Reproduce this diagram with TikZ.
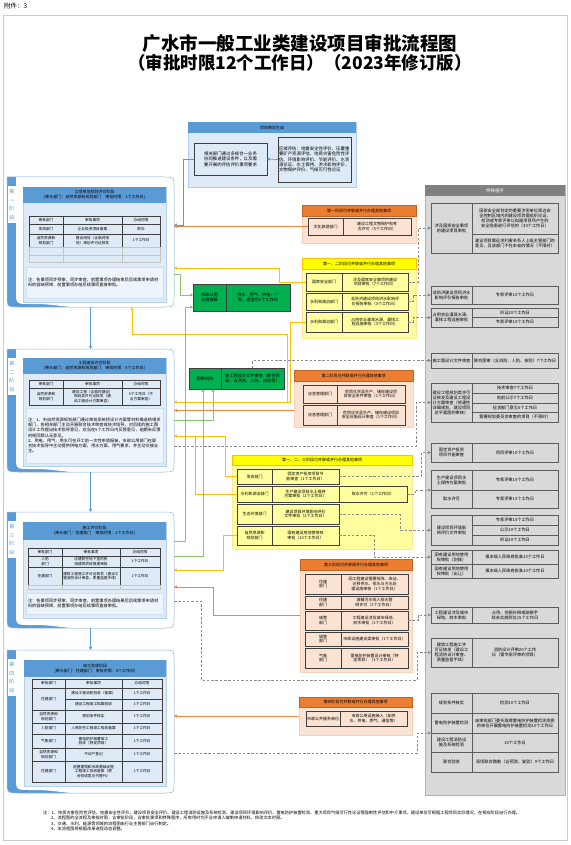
\documentclass[tikz,border=0pt]{standalone}
\usepackage{fontspec}
\setmainfont{Noto Sans CJK SC}
\XeTeXlinebreaklocale "zh"
\XeTeXlinebreakskip=0pt
\usetikzlibrary{arrows.meta}
\definecolor{sblue}{HTML}{5B9BD5}
\definecolor{lblue}{HTML}{DEEBF7}
\definecolor{nblue}{HTML}{EEF4FB}
\definecolor{frameb}{HTML}{9DB9DB}
\definecolor{tab}{HTML}{3F3F3F}
\definecolor{orh}{HTML}{ED7D31}
\definecolor{orb}{HTML}{FBE3D3}
\definecolor{yeh}{HTML}{FFFF00}
\definecolor{yeb}{HTML}{FFFF9F}
\definecolor{grn}{HTML}{00B050}
\definecolor{gpan}{HTML}{D9D9D9}
\definecolor{gh}{HTML}{808080}
\definecolor{lnb}{HTML}{5B9BD5}
\definecolor{lno}{HTML}{F08540}
\definecolor{lny}{HTML}{FFC000}
\definecolor{lng}{HTML}{8DC26F}
\definecolor{lnd}{HTML}{8C8C8C}
\newcommand\fz[2]{\fontsize{#1pt}{#2pt}\selectfont}
\newcommand\bx[7]{%
  \pgfmathsetmacro\bxw{#5-#3}%
  \pgfmathsetmacro\bxh{#6-#4}%
  \pgfmathsetmacro\bxt{max(#5-#3-2,1)}%
  \node[#1,minimum width=\bxw pt,minimum height=\bxh pt,text width=\bxt pt] (#2) at ({(#3+#5)/2},{(#4+#6)/2}) {#7};}
\newcommand\stg[4]{%
  \fill[sblue] (7,#2) -- (164,#2) .. controls (174,#2) .. (174,{#2+10}) -- (174,{#3-10}) .. controls (174,#3) .. (164,#3) -- (19,#3) .. controls (7,#3) .. (7,{#3-12}) -- cycle;
  \fill[white] (16,#2) -- (164,#2) .. controls (174,#2) .. (174,{#2+10}) -- (174,{#3-10}) .. controls (174,#3) .. (164,#3) -- (70,#3) .. controls (45,{#3-3}) .. (30,{#3-3}) .. controls (16,{#3-3}) .. (16,{#3-16}) -- cycle;
  \draw[frameb,line width=0.5pt] (7,#2) -- (164,#2) .. controls (174,#2) .. (174,{#2+10}) -- (174,{#3-10}) .. controls (174,#3) .. (164,#3) -- (19,#3) .. controls (7,#3) .. (7,{#3-12}) -- cycle;
  \fill[white] (8,{#2+9}) rectangle (15.5,{#2+46});
  \node[text=sblue,font=\fz{5}{8.5},align=center,inner sep=0] (#1l) at (11.75,{#2+27.5}) {#4};
  \pgfmathsetmacro\sth{#3-#2}%
  \node[inner sep=0,outer sep=0,minimum width=167pt,minimum height=\sth pt] (#1) at (90.5,{(#2+#3)/2}) {};}
\tikzset{
  base/.style={inner xsep=1pt,inner ysep=0.2pt,outer sep=0pt,align=center},
  cell/.style={base,draw=tab,line width=0.4pt,font=\fz{3.7}{4.4}},
  ecell/.style={base,draw=tab!30,line width=0.4pt},
  ibox/.style={base,fill=lblue,draw=sblue!45,line width=0.4pt},
  hdr/.style={base,fill=sblue,font=\fz{4}{5.2}},
  note/.style={base,fill=nblue,draw=sblue!30,line width=0.3pt,align=left,font=\fz{4.2}{5.2},inner xsep=2pt},
  pbox/.style={base,fill=lblue,draw=tab,line width=0.5pt,font=\fz{4.4}{5.4}},
  gbox/.style={base,fill=grn,draw=tab,line width=0.5pt,font=\fz{4.2}{5}},
  obody/.style={base,fill=orb,draw=orh!35,line width=0.5pt},
  ybody/.style={base,fill=yeb,draw=lny!40,line width=0.5pt},
  ohdr/.style={base,fill=orh,draw=orh!80!black,line width=0.3pt,font=\fz{4}{5}},
  yhdr/.style={base,fill=yeh,draw=lny,line width=0.3pt,font=\fz{4}{5}},
  pcell/.style={base,draw=tab,line width=0.5pt,font=\fz{4}{4.8}},
  rcell/.style={base,draw=tab!85,line width=0.5pt,font=\fz{4.2}{5}},
  arr/.style={-{Triangle[length=2.8pt,width=2.8pt]}},
  cb/.style={arr,draw=lnb,line width=0.7pt},
  co/.style={arr,draw=lno,line width=0.7pt},
  cy/.style={arr,draw=lny,line width=0.7pt},
  cyn/.style={draw=lny,line width=0.7pt},
  cg/.style={arr,draw=lng,line width=0.7pt},
  cd/.style={arr,draw=lnd,line width=0.7pt,dash pattern=on 2.5pt off 1.8pt},
}
\begin{document}
\begin{tikzpicture}[x=1pt,y=-1pt]
\useasboundingbox (0,0) rectangle (570,845);
\fill[white] (0,0) rectangle (570,845);
\draw[gray!40,line width=0.6pt] (3,15) rectangle (567,840);
\node[anchor=north west,font=\fz{6.5}{7.5},inner sep=0] (att) at (4,3) {附件：3};
\node[font=\fz{18.5}{20}\bfseries,inner sep=0] (t1) at (300,43) {广水市一般工业类建设项目审批流程图};
\node[font=\fz{17.5}{19}\bfseries,inner sep=0] (t2) at (300,63) {（审批时限12个工作日）（2023年修订版）};

% ---------- project planning ----------
\bx{base,fill=lblue,draw=sblue!50,line width=0.5pt}{plan}{188}{122}{356}{187}{}
\bx{hdr}{planh}{188}{122}{356}{133}{项目策划生成}
\bx{pbox}{pl}{194}{143}{267}{175}{相关部门通过多规合一业务协同推进建设条件，以及需要开展的评估评价事项要求}
\bx{pbox,align=left}{pr}{278}{137}{351}{182}{区域评估：地震安全性评价、压覆重要矿产资源评估、地质灾害危险性评估、环境影响评价、节能评价、水资源论证、水土保持、洪水影响评价、文物保护评价、气候可行性论证}

% ---------- stage 1 ----------
\stg{st1}{177}{307}{第\\一\\阶\\段}
\bx{ibox}{s1i}{23}{187}{166}{302}{}
\bx{hdr}{s1h}{23}{187}{166}{203}{立项用地规划许可阶段\\{}[牵头部门：自然资源和规划部门\quad 审批时限：1个工作日]}
\bx{cell}{s1c1}{29}{216}{63}{224}{审批部门}
\bx{cell}{s1c2}{63}{216}{122}{224}{审批事项}
\bx{cell}{s1c3}{122}{216}{160}{224}{办结时限}
\bx{cell}{s1c4}{29}{224}{63}{234}{发改部门}
\bx{cell}{s1c5}{63}{224}{122}{234}{企业投资项目备案}
\bx{cell}{s1c6}{122}{224}{160}{234}{即办}
\bx{cell}{s1c7}{29}{234}{63}{247}{自然资源和规划部门}
\bx{cell}{s1c8}{63}{234}{122}{247}{建设用地（含临时用地）规划许可证核发}
\bx{cell}{s1c9}{122}{234}{160}{247}{1个工作日}
\bx{ecell}{s1e1}{29}{247}{63}{255}{}
\bx{ecell}{s1e2}{63}{247}{122}{255}{}
\bx{ecell}{s1e3}{122}{247}{160}{255}{}
\bx{ecell}{s1e4}{29}{255}{63}{262}{}
\bx{ecell}{s1e5}{63}{255}{122}{262}{}
\bx{ecell}{s1e6}{122}{255}{160}{262}{}
\bx{note}{s1n}{27}{267}{162}{298}{注：各事项同步预审，同步审查，前置事项办理结束后后续事项申请材料的容缺预审，前置事项办结后续事项直接审批。}

% ---------- stage 2 ----------
\stg{st2}{349}{472}{第\\二\\阶\\段}
\bx{ibox}{s2i}{23}{358}{166}{466}{}
\bx{hdr}{s2h}{23}{358}{166}{374}{工程建设许可阶段\\{}[牵头部门：自然资源和规划部门\quad 审批时限：5个工作日]}
\bx{cell}{s2c1}{29}{380}{63}{388}{审批部门}
\bx{cell}{s2c2}{63}{380}{122}{388}{审批事项}
\bx{cell}{s2c3}{122}{380}{160}{388}{办结时限}
\bx{cell}{s2c4}{29}{388}{63}{405}{自然资源和规划部门}
\bx{cell}{s2c5}{63}{388}{122}{405}{建设工程（含临时建设）规划类许可证核发（建设工程设计方案审查）}
\bx{cell}{s2c6}{122}{388}{160}{405}{5个工作日（不含方案审查）}
\bx{note}{s2n}{27}{408}{162}{463}{注：1、市自然资源规划部门通过审批系统将设计方案等材料推送给相关部门，各相关部门主动开展联合技术审查或技术指导，对后续的施工图设计工作提出技术指导意见，应当在5个工作日内反馈意见，逾期未反馈的视同默认无意见。\\2、用电、用气、用水可在开工前一次性申请报装，市政公用部门在联合技术指导中主动提供供电方案、用水方案、用气要求，并主动交接业主。}

% ---------- stage 3 ----------
\stg{st3}{512}{628}{第\\三\\阶\\段}
\bx{ibox}{s3i}{23}{522}{166}{618}{}
\bx{hdr}{s3h}{23}{522}{166}{540}{施工许可阶段\\{}[牵头部门：住建部门\quad 审批时限：2个工作日]}
\bx{cell}{s3c1}{28}{548}{62}{556}{审批部门}
\bx{cell}{s3c2}{62}{548}{120}{556}{审批事项}
\bx{cell}{s3c3}{120}{548}{160}{556}{办结时限}
\bx{cell}{s3c4}{28}{556}{62}{567}{人防\\部门}
\bx{cell}{s3c5}{62}{556}{120}{567}{应建防空地下室的民用建筑项目报建审批}
\bx{cell}{s3c6}{120}{556}{160}{567}{1个工作日}
\bx{cell}{s3c7}{28}{567}{62}{585}{住建部门}
\bx{cell}{s3c8}{62}{567}{120}{585}{建筑工程施工许可证核发（建设工程消防设计审查、质量监督手续）}
\bx{cell}{s3c9}{120}{567}{160}{585}{1个工作日}
\bx{ecell}{s3e1}{28}{585}{62}{589}{}
\bx{ecell}{s3e2}{62}{585}{120}{589}{}
\bx{ecell}{s3e3}{120}{585}{160}{589}{}
\bx{note}{s3n}{27}{593}{162}{614}{注：各事项同步预审，同步审查，前置事项办理结果后后续事项申请材料的容缺预审，前置事项办结后续事项直接审批。}

% ---------- stage 4 ----------
\stg{st4}{650}{793}{第\\四\\阶\\段}
\bx{ibox}{s4i}{24}{660}{166}{786}{}
\bx{hdr}{s4h}{24}{660}{166}{677}{竣工验收阶段\\{}[牵头部门：住建部门\quad 审批时限：4个工作日]}
\bx{cell}{s4c1}{32}{679}{65}{688}{审批部门}
\bx{cell}{s4c2}{65}{679}{122}{688}{审批事项}
\bx{cell}{s4c3}{122}{679}{162}{688}{办结时限}
\bx{cell}{s4c4}{32}{688}{65}{710}{住建部门}
\bx{cell}{s4c5}{65}{688}{122}{699}{建设工程消防验收（备案）}
\bx{cell}{s4c6}{122}{688}{162}{699}{1个工作日}
\bx{cell}{s4c7}{65}{699}{122}{710}{建设工程竣工档案验收}
\bx{cell}{s4c8}{122}{699}{162}{710}{1个工作日}
\bx{cell}{s4c9}{32}{710}{65}{723}{自然资源和规划部门}
\bx{cell}{s4c10}{65}{710}{122}{723}{规划条件核实}
\bx{cell}{s4c11}{122}{710}{162}{723}{1个工作日}
\bx{cell}{s4c12}{32}{723}{65}{734}{人防部门}
\bx{cell}{s4c13}{65}{723}{122}{734}{人民防空工程竣工验收备案}
\bx{cell}{s4c14}{122}{723}{162}{734}{1个工作日}
\bx{cell}{s4c15}{32}{734}{65}{748}{气象部门}
\bx{cell}{s4c16}{65}{734}{122}{748}{雷电防护装置竣工验收（特定项目）}
\bx{cell}{s4c17}{122}{734}{162}{748}{1个工作日}
\bx{cell}{s4c18}{32}{748}{65}{761}{自然资源和规划部门}
\bx{cell}{s4c19}{65}{748}{122}{761}{不动产登记}
\bx{cell}{s4c20}{122}{748}{162}{761}{1个工作日}
\bx{cell}{s4c21}{32}{761}{65}{782}{住建部门}
\bx{cell}{s4c22}{65}{761}{122}{782}{房屋建筑和市政基础设施工程竣工验收备案（联合验收意见书替代）}
\bx{cell}{s4c23}{122}{761}{162}{782}{1个工作日}

% ---------- green boxes ----------
\bx{gbox}{mzA}{193}{284}{226}{311}{市政公用设施报装}
\bx{gbox}{mzB}{226}{284}{290}{311}{用水、用气、供电、广电、通信均1个工作日}
\bx{gbox}{tsA}{189}{368}{221}{389}{图审机构}
\bx{gbox}{tsB}{221}{368}{284}{389}{施工图设计文件审查（联合图审，含消防、人防、技防等）}

% ---------- parallel items ----------
\bx{obody}{o1}{302}{205}{416}{243}{}
\bx{ohdr}{o1h}{302}{205}{416}{216}{第一阶段可并联或并行办理其他事项}
\bx{pcell}{o1a}{308}{218}{343}{235}{文化旅游部门}
\bx{pcell}{o1b}{343}{218}{411}{235}{建设工程文物保护和考古许可（5个工作日）}

\bx{ybody}{y1}{302}{258}{416}{338}{}
\bx{yhdr}{y1h}{302}{258}{416}{269}{第一、二阶段可并联或并行办理其他事项}
\bx{pcell}{y1a}{306}{273}{342}{291}{国家安全部门}
\bx{pcell}{y1b}{342}{273}{408}{291}{涉及国家安全事项的建设项目审批（7个工作日）}
\bx{pcell}{y2a}{306}{293}{342}{310}{水利和湖泊部门}
\bx{pcell}{y2b}{342}{293}{408}{310}{非防洪建设项目洪水影响评价报告审批（3个工作日）}
\bx{pcell}{y3a}{306}{312}{342}{332}{水利和湖泊部门}
\bx{pcell}{y3b}{342}{312}{408}{332}{占用农业灌溉水源、灌排工程设施审批（3个工作日）}

\bx{obody}{o2}{294}{370}{413}{427}{}
\bx{ohdr}{o2h}{294}{370}{413}{381}{第二阶段可并联或并行办理其他事项}
\bx{pcell}{o2a}{303}{385}{337}{403}{应急管理部门}
\bx{pcell}{o2b}{337}{385}{405}{403}{危险化学品生产、储存建设项目安全条件审查（1个工作日）}
\bx{pcell}{o2c}{303}{405}{337}{425}{应急管理部门}
\bx{pcell}{o2d}{337}{405}{405}{425}{危险化学品生产、储存建设项目安全设施设计审查（1个工作日）}

\bx{ybody}{yr}{232}{455}{412}{549}{}
\bx{yhdr}{yrh}{232}{455}{412}{465}{第一、二、三阶段可并联或并行办理其他事项}
\bx{pcell}{yr1a}{237}{469}{272}{484}{发改部门}
\bx{pcell}{yr1b}{272}{469}{339}{484}{固定资产投资项目节能审查（1个工作日）}
\bx{pcell}{yr2a}{237}{486}{272}{502}{水利和湖泊部门}
\bx{pcell}{yr2b}{272}{486}{339}{502}{生产建设项目水土保持方案审批（2个工作日）}
\bx{pcell}{yr2c}{339}{486}{407}{502}{取水许可（1个工作日）}
\bx{pcell}{yr3a}{237}{504}{272}{524}{生态环境部门}
\bx{pcell}{yr3b}{272}{504}{339}{524}{建设项目环境影响评价文件审批（2个工作日）}
\bx{pcell}{yr4a}{237}{526}{272}{545}{自然资源和规划部门}
\bx{pcell}{yr4b}{272}{526}{339}{545}{国有建设用地使用权审批（10个工作日）}

\bx{obody}{o3}{300}{559}{412}{672}{}
\bx{ohdr}{o3h}{300}{559}{412}{570}{第三阶段可并联或并行办理其他事项}
\bx{pcell}{o3a}{305}{574}{341}{594}{住建\\部门}
\bx{pcell}{o3b}{341}{574}{408}{594}{因工程建设需要拆除、改动、迁移供水、排水与污水处理设施审核（1个工作日）}
\bx{pcell}{o3c}{305}{596}{341}{609}{住建\\部门}
\bx{pcell}{o3d}{341}{596}{408}{609}{城镇污水排入排水管网许可（1个工作日）}
\bx{pcell}{o3e}{305}{611}{341}{630}{城管\\部门}
\bx{pcell}{o3f}{341}{611}{408}{630}{工程建设涉及城市绿地、树木审批（1个工作日）}
\bx{pcell}{o3g}{305}{632}{341}{646}{城管\\部门}
\bx{pcell}{o3h}{341}{632}{408}{646}{市政设施建设类审批（1个工作日）}
\bx{pcell}{o3i}{305}{648}{341}{668}{气象\\部门}
\bx{pcell}{o3j}{341}{648}{408}{668}{雷电防护装置设计审核（特定项目）（1个工作日）}

\bx{obody}{o4}{299}{697}{412}{735}{}
\bx{ohdr}{o4h}{299}{697}{412}{707}{第四阶段可并联或并行办理其他事项}
\bx{pcell}{o4a}{306}{711}{340}{726}{市政公共服务单位}
\bx{pcell}{o4b}{340}{711}{407}{726}{市政公用设施接入（如供水、供电、燃气、通信等）}

% ---------- special procedures ----------
\bx{base,fill=gpan,draw=gray!60,line width=0.4pt}{gp}{425}{185}{565}{795}{}
\bx{base,fill=gh,text=white,font=\fz{4.4}{5}}{gph}{425}{185}{565}{196}{特殊程序}
\bx{rcell}{r1L}{431}{203}{472}{253}{涉及国家安全事项的建设项目审批}
\bx{rcell}{r1a}{472}{203}{558}{234}{国家安全部划定的重要涉密单位周边安全控制区域内的建设项目需组织论证、检测或专家评审以拟建项目所产生的安全隐患进行评估的（30个工作日）}
\bx{rcell}{r1b}{472}{234}{558}{253}{建设项目需征求利害关系人上级主管部门的意见，且该部门不在本省的情况（不限时）}
\bx{rcell}{r2L}{431}{286}{472}{304}{非防洪建设项目洪水影响评价报告审批}
\bx{rcell}{r2a}{472}{286}{558}{304}{专家评审10个工作日}
\bx{rcell}{r3L}{431}{308}{472}{327}{占用农业灌溉水源、灌排工程设施审批}
\bx{rcell}{r3a}{472}{308}{558}{317}{听证20个工作日}
\bx{rcell}{r3b}{472}{317}{558}{327}{专家评审10个工作日}
\bx{rcell}{r4L}{431}{353}{472}{368}{施工图设计文件审查}
\bx{rcell}{r4a}{472}{353}{558}{368}{联合图审（含消防、人防、技防）7个工作日}
\bx{rcell}{r5L}{431}{383}{472}{422}{建设工程规划类许可证核发及建设工程设计方案审查（修建性详细规划、建设项目总平面图的审核）}
\bx{rcell}{r5a}{472}{383}{558}{393}{技术审查7个工作日}
\bx{rcell}{r5b}{472}{393}{558}{403}{批前公示7个工作日}
\bx{rcell}{r5c}{472}{403}{558}{412}{征求部门意见5个工作日}
\bx{rcell}{r5d}{472}{412}{558}{422}{需要规划委员会审查的项目（不限时）}
\bx{rcell}{r6L}{431}{443}{472}{462}{固定资产投资项目节能审查}
\bx{rcell}{r6a}{472}{443}{558}{462}{项目评审10个工作日}
\bx{rcell}{r7La}{431}{470}{472}{490}{生产建设项目水土保持方案审批}
\bx{rcell}{r7a}{472}{470}{558}{490}{专家评审10个工作日}
\bx{rcell}{r7Lb}{431}{490}{472}{508}{取水许可}
\bx{rcell}{r7b}{472}{490}{558}{508}{专家评审10个工作日}
\bx{rcell}{r8L}{431}{515}{472}{545}{建设项目环境影响评价文件审批}
\bx{rcell}{r8a}{472}{515}{558}{525}{专家评审10个工作日}
\bx{rcell}{r8b}{472}{525}{558}{535}{公示10个工作日}
\bx{rcell}{r8c}{472}{535}{558}{545}{听证20个工作日}
\bx{rcell}{r9La}{431}{550}{472}{564}{国有建设用地使用权审批（划拨）}
\bx{rcell}{r9a}{472}{550}{558}{564}{报本级人民政府批准10个工作日}
\bx{rcell}{r9Lb}{431}{564}{472}{578}{国有建设用地使用权审批（出让）}
\bx{rcell}{r9b}{472}{564}{558}{578}{报本级人民政府批准10个工作日}
\bx{rcell}{r10L}{431}{607}{472}{623}{工程建设涉及城市绿地、树木审批}
\bx{rcell}{r10a}{472}{607}{558}{623}{占用、挖掘补偿或赔偿手续未实施到位15个工作日}
\bx{rcell}{r11L}{431}{638}{472}{667}{建筑工程施工许可证核发（建设工程消防设计审查、质量监督手续）}
\bx{rcell}{r11a}{472}{638}{558}{667}{消防设计评审20个工作日（需专家评审的项目）}
\bx{rcell}{r12aL}{431}{693}{472}{713}{规划条件核实}
\bx{rcell}{r12a}{472}{693}{558}{713}{检测10个工作日}
\bx{rcell}{r12bL}{431}{713}{472}{733}{雷电防护装置检测}
\bx{rcell}{r12b}{472}{713}{558}{733}{由审批部门委托取得雷电防护装置检测资质的单位开展雷电防护装置检测10个工作日}
\bx{rcell}{r12cL}{431}{733}{472}{752}{建设工程消防设施及系统检测}
\bx{rcell}{r12c}{472}{733}{558}{752}{10个工作日}
\bx{rcell}{r12dL}{431}{752}{472}{772}{联合验收}
\bx{rcell}{r12d}{472}{752}{558}{772}{现场联合踏勘（含预验、复验）9个工作日}

% ---------- bottom notes ----------
\node[anchor=north west,inner sep=0,text width=485pt,align=left,font=\fz{4.2}{5.2}] (notes) at (43,811) {注：1、地质灾害危险性评估、地震安全性评价、建设项目安全评价、建设工程消防设施及系统检测、建设项目环境影响评价、雷电防护装置检测、重大项目气候可行性论证等强制性评估和中介事项，建设单位可根据工程项目实际情况，在相应阶段自行办理。\\\hspace*{8pt}2、流程图的全流程及审批时限，含审批阶段，含审批事项和特殊程序，所有用时均不含申请人编制申请材料、修改文本时限。\\\hspace*{8pt}3、交通、水利、能源等领域的流程图由行业主管部门自行制定。\\\hspace*{8pt}4、本流程图将根据改革进程动态调整。};

% ---------- edge points ----------
\coordinate (s1b) at (174,225);
\coordinate (s1y) at (174,268);
\coordinate (s1g) at (174,274);
\coordinate (s1s) at (132,307);
\coordinate (s2y) at (174,402);
\coordinate (s2g) at (174,420);
\coordinate (s2y2) at (174,436);
\coordinate (s2d) at (174,446);
\coordinate (s3g1) at (174,541);
\coordinate (s3g2) at (174,556);
\coordinate (s3y) at (174,570);
\coordinate (s3o) at (174,587);
\coordinate (s3d) at (174,601);
\coordinate (s4d) at (174,753);
\coordinate (yj) at (287,402);
\coordinate (o2out) at ([yshift=-12pt]o2.west);

% ---------- connectors ----------
\draw[cb] (st1.south) -- (st2.north);
\draw[cb] (st2.south) -- (st3.north);
\draw[cb] (st3.south) -- (st4.north);
\draw[cb] (pr.west) -- (pl.east);
\draw[cb] (pl.west) -| (183,225) -- (s1b);

\draw[co] (o1a.west) -- (o1a.west -| st1.east);
\draw[co] (o2out) -- (o2out -| st2.east);
\draw[co] (o3.west) -| (213,587) -- (s3o);
\draw[co] (o4.west) -- (o4.west -| st4.east);

\draw[cy] (y1a.west) -| (279,268) -- (s1y);
\draw[cy] (y3a.west) -| (290,402) -- (s2y);
\draw[cy] (yj) |- (132,334) -- (s1s);
\draw[cy] (yr1a.west) -| (225,436) -- (s2y2);
\draw[cyn] (yr2a.west) -| (195,436);
\draw[cy] (yr4a.west) -| (223,570) -- (s3y);

\draw[cg] (s1g) -| (180,295) -- ([yshift=2.5pt]mzA.west);
\draw[cg] (s3g1) -| (185,307) -- ([yshift=-9.5pt]mzA.west);
\draw[cg] (s3g2) -| ([xshift=-2pt]tsA.south);
\draw[cg] (s2g) -| ([xshift=8pt]tsA.south);

\draw[cd] (y1b.east) -- ++(10,0) |- (r1L.west);
\draw[cd] (y2b.east) -- ++(5,0) |- (r2L.west);
\draw[cd] (y3b.east) -- ++(5,0) |- (r3L.west);
\draw[cd] (tsB.north) |- (r4L.west);
\draw[cd] (s2d) -- (416,446) |- (r5L.west);
\draw[cd] (yr1b.east) -- ++(82,0) |- (r6L.west);
\draw[cd] (yr2c.east) -- ++(8,0) |- (r7La.south west);
\draw[cd] (yr3b.east) -- ++(61,0) |- (r8L.west);
\draw[cd] (yr4b.east) -- ++(35,0) |- (r9La.west);
\draw[cd] (o3f.east) -- ++(10,0) |- (r10L.west);
\draw[cd] (s3d) -- (201,601) -- (201,680) -- (417,680) |- (r11L.west);
\draw[cd] (s4d) -- (417,753) |- ([yshift=-10pt]r12bL.west);
\end{tikzpicture}
\end{document}
